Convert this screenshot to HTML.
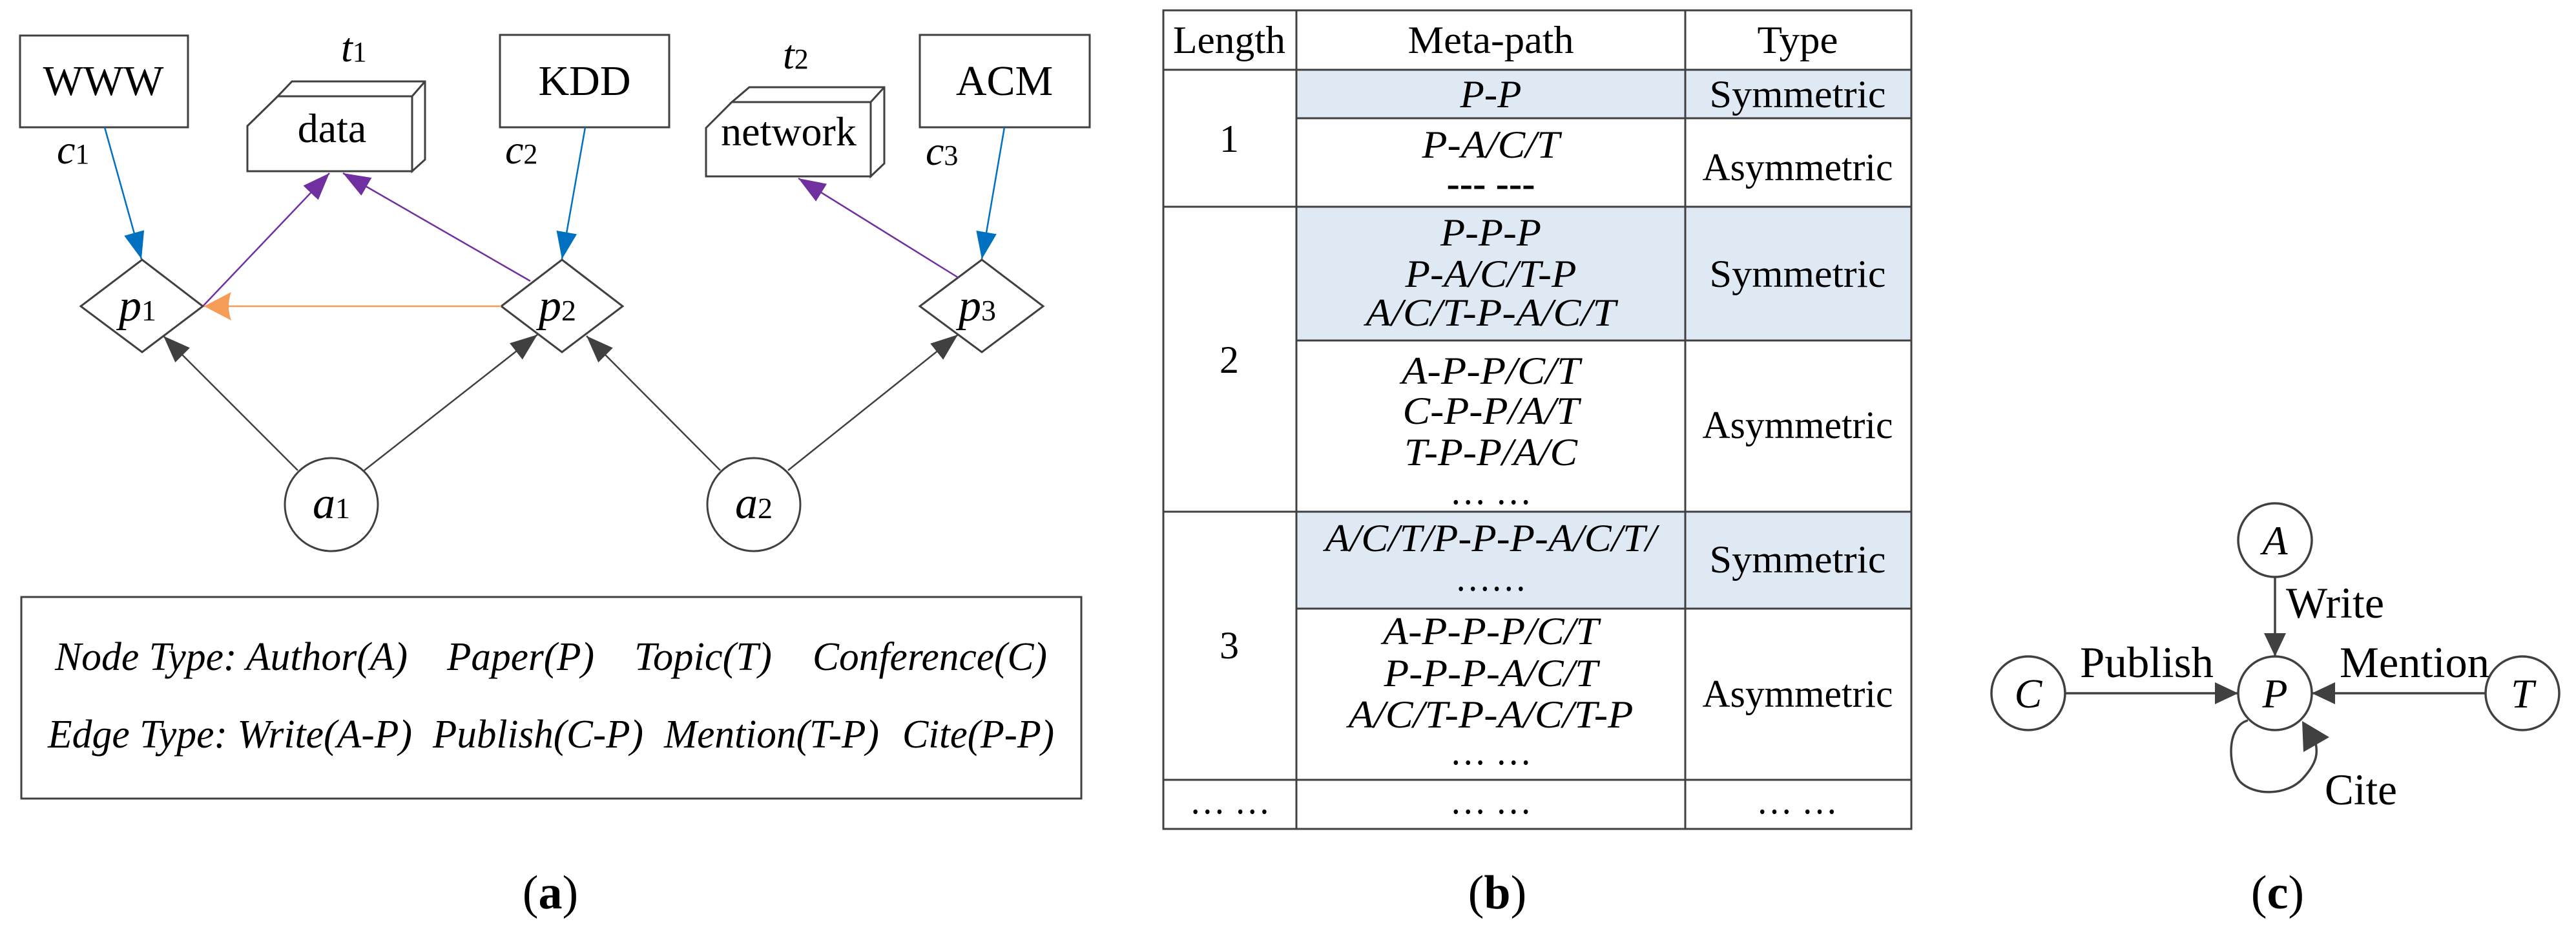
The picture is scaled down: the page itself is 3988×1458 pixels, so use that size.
<!DOCTYPE html>
<html><head><meta charset="utf-8"><style>
html,body{margin:0;padding:0;background:#fff;}
svg{display:block;}
text{font-family:"Liberation Serif",serif;fill:#000;}
</style></head><body>
<svg width="3988" height="1458" viewBox="0 0 3988 1458" xmlns="http://www.w3.org/2000/svg">
<defs>
<marker id="mb" markerUnits="userSpaceOnUse" markerWidth="44" markerHeight="34" refX="42" refY="16" orient="auto"><path d="M0,0 L42,16 L0,32 Z" fill="#0070c0"/></marker>
<marker id="mp" markerUnits="userSpaceOnUse" markerWidth="44" markerHeight="34" refX="42" refY="16" orient="auto"><path d="M0,0 L42,16 L0,32 Z" fill="#7030a0"/></marker>
<marker id="mo" markerUnits="userSpaceOnUse" markerWidth="44" markerHeight="46" refX="42" refY="22" orient="auto"><path d="M0,0 L42,22 L0,44 Q8,22 0,0 Z" fill="#f59d56"/></marker>
<marker id="md" markerUnits="userSpaceOnUse" markerWidth="44" markerHeight="34" refX="42" refY="16" orient="auto"><path d="M0,0 L42,16 L0,32 Z" fill="#404040"/></marker>
<marker id="mc" markerUnits="userSpaceOnUse" markerWidth="40" markerHeight="36" refX="36" refY="17" orient="auto"><path d="M0,0 L36,17 L0,34 Z" fill="#404040"/></marker>
</defs>

<!-- ===== Panel (a) ===== -->
<g stroke="#404040" stroke-width="3" fill="#fff">
<rect x="31" y="55" width="260" height="142"/>
<rect x="774" y="54" width="262" height="143"/>
<rect x="1424" y="54" width="263" height="143"/>
<polygon points="430,149 452,126 658,126 658,247 638,265 638,149"/>
<polygon points="383,195 430,149 638,149 638,265 383,265"/>
<line x1="638" y1="149" x2="658" y2="126"/>
<polygon points="1133,158 1160,135 1369,135 1369,253 1348,273 1348,158"/>
<polygon points="1093,198 1133,158 1348,158 1348,273 1093,273"/>
<line x1="1348" y1="158" x2="1369" y2="135"/>
<polygon points="125,474 220,402 314,474 220,545"/>
<polygon points="776,474 870,402 964,474 870,545"/>
<polygon points="1424,474 1520,402 1615,474 1520,545"/>
<circle cx="513" cy="781" r="72"/>
<circle cx="1167" cy="781" r="72"/>
</g>
<text x="160" y="147" font-size="66" text-anchor="middle">WWW</text>
<text x="905" y="147" font-size="66" text-anchor="middle">KDD</text>
<text x="1555" y="147" font-size="66" text-anchor="middle">ACM</text>
<text x="514" y="220" font-size="64" text-anchor="middle">data</text>
<text x="1221" y="225" font-size="64" text-anchor="middle">network</text>
<text x="528" y="95" font-size="64"><tspan font-style="italic">t</tspan><tspan font-size="44">1</tspan></text>
<text x="1212" y="106" font-size="64"><tspan font-style="italic">t</tspan><tspan font-size="44">2</tspan></text>
<text x="88" y="253" font-size="64"><tspan font-style="italic">c</tspan><tspan font-size="44">1</tspan></text>
<text x="782" y="253" font-size="64"><tspan font-style="italic">c</tspan><tspan font-size="44">2</tspan></text>
<text x="1433" y="255" font-size="64"><tspan font-style="italic">c</tspan><tspan font-size="44">3</tspan></text>
<text x="184" y="496" font-size="70"><tspan font-style="italic">p</tspan><tspan font-size="46">1</tspan></text>
<text x="834" y="496" font-size="70"><tspan font-style="italic">p</tspan><tspan font-size="46">2</tspan></text>
<text x="1484" y="496" font-size="70"><tspan font-style="italic">p</tspan><tspan font-size="46">3</tspan></text>
<text x="484" y="802" font-size="70"><tspan font-style="italic">a</tspan><tspan font-size="46">1</tspan></text>
<text x="1138" y="802" font-size="70"><tspan font-style="italic">a</tspan><tspan font-size="46">2</tspan></text>

<g fill="none" stroke-width="2.5">
<line x1="162" y1="197" x2="219" y2="401" stroke="#0070c0" marker-end="url(#mb)"/>
<line x1="906" y1="197" x2="870" y2="401" stroke="#0070c0" marker-end="url(#mb)"/>
<line x1="1555" y1="197" x2="1520" y2="401" stroke="#0070c0" marker-end="url(#mb)"/>
<line x1="314" y1="474" x2="510" y2="268" stroke="#7030a0" marker-end="url(#mp)"/>
<line x1="821" y1="435" x2="531" y2="268" stroke="#7030a0" marker-end="url(#mp)"/>
<line x1="1484" y1="430" x2="1236" y2="276" stroke="#7030a0" marker-end="url(#mp)"/>
<line x1="776" y1="474" x2="316" y2="474" stroke="#f59d56" marker-end="url(#mo)"/>
<line x1="461" y1="728" x2="253" y2="520" stroke="#404040" marker-end="url(#md)"/>
<line x1="564" y1="728" x2="832" y2="518" stroke="#404040" marker-end="url(#md)"/>
<line x1="1115" y1="728" x2="908" y2="520" stroke="#404040" marker-end="url(#md)"/>
<line x1="1220" y1="728" x2="1483" y2="518" stroke="#404040" marker-end="url(#md)"/>
</g>

<rect x="33" y="924" width="1641" height="312" fill="none" stroke="#404040" stroke-width="3"/>
<g font-size="62" font-style="italic">
<text x="85" y="1037" textLength="546" lengthAdjust="spacingAndGlyphs">Node Type: Author(A)</text>
<text x="692" y="1037" textLength="228" lengthAdjust="spacingAndGlyphs">Paper(P)</text>
<text x="982" y="1037" textLength="213" lengthAdjust="spacingAndGlyphs">Topic(T)</text>
<text x="1258" y="1037" textLength="363" lengthAdjust="spacingAndGlyphs">Conference(C)</text>
<text x="74" y="1157" textLength="564" lengthAdjust="spacingAndGlyphs">Edge Type: Write(A-P)</text>
<text x="670" y="1157" textLength="326" lengthAdjust="spacingAndGlyphs">Publish(C-P)</text>
<text x="1028" y="1157" textLength="333" lengthAdjust="spacingAndGlyphs">Mention(T-P)</text>
<text x="1397" y="1157" textLength="235" lengthAdjust="spacingAndGlyphs">Cite(P-P)</text>
</g>
<text x="852" y="1406" font-size="74" text-anchor="middle">(<tspan font-weight="bold">a</tspan>)</text>

<!-- ===== Panel (b) ===== -->
<rect x="2007" y="108" width="952" height="75" fill="#dfe9f3"/>
<rect x="2007" y="320" width="952" height="207" fill="#dfe9f3"/>
<rect x="2007" y="792" width="952" height="150" fill="#dfe9f3"/>
<g stroke="#404040" stroke-width="3" fill="none">
<rect x="1801" y="16" width="1158" height="1267"/>
<line x1="2007" y1="16" x2="2007" y2="1283"/>
<line x1="2609" y1="16" x2="2609" y2="1283"/>
<line x1="1801" y1="108" x2="2959" y2="108"/>
<line x1="2007" y1="183" x2="2959" y2="183"/>
<line x1="1801" y1="320" x2="2959" y2="320"/>
<line x1="2007" y1="527" x2="2959" y2="527"/>
<line x1="1801" y1="792" x2="2959" y2="792"/>
<line x1="2007" y1="942" x2="2959" y2="942"/>
<line x1="1801" y1="1207" x2="2959" y2="1207"/>
</g>
<g font-size="60" text-anchor="middle">
<text x="1903" y="82" textLength="174" lengthAdjust="spacingAndGlyphs">Length</text>
<text x="2308" y="82" textLength="257" lengthAdjust="spacingAndGlyphs">Meta-path</text>
<text x="2783" y="82" textLength="125" lengthAdjust="spacingAndGlyphs">Type</text>
<text x="1903" y="235">1</text>
<text x="1903" y="577">2</text>
<text x="1903" y="1019">3</text>
<text x="2783" y="166" textLength="273" lengthAdjust="spacingAndGlyphs">Symmetric</text>
<text x="2783" y="279" textLength="295" lengthAdjust="spacingAndGlyphs">Asymmetric</text>
<text x="2783" y="444" textLength="273" lengthAdjust="spacingAndGlyphs">Symmetric</text>
<text x="2783" y="678" textLength="295" lengthAdjust="spacingAndGlyphs">Asymmetric</text>
<text x="2783" y="886" textLength="273" lengthAdjust="spacingAndGlyphs">Symmetric</text>
<text x="2783" y="1094" textLength="295" lengthAdjust="spacingAndGlyphs">Asymmetric</text>
<text x="2308" y="304" textLength="137" lengthAdjust="spacingAndGlyphs" font-weight="bold">--- ---</text>
<text x="2308" y="780" textLength="127" lengthAdjust="spacingAndGlyphs">… …</text>
<text x="2308" y="914" textLength="111" lengthAdjust="spacingAndGlyphs">……</text>
<text x="2308" y="1183" textLength="127" lengthAdjust="spacingAndGlyphs">… …</text>
<text x="1904" y="1259" textLength="125" lengthAdjust="spacingAndGlyphs">… …</text>
<text x="2308" y="1259" textLength="127" lengthAdjust="spacingAndGlyphs">… …</text>
<text x="2782" y="1259" textLength="126" lengthAdjust="spacingAndGlyphs">… …</text>
</g>
<g font-size="60" text-anchor="middle" font-style="italic">
<text x="2308" y="166" textLength="95" lengthAdjust="spacingAndGlyphs">P-P</text>
<text x="2308" y="244" textLength="213" lengthAdjust="spacingAndGlyphs">P-A/C/T</text>
<text x="2308" y="380" textLength="156" lengthAdjust="spacingAndGlyphs">P-P-P</text>
<text x="2308" y="444" textLength="265" lengthAdjust="spacingAndGlyphs">P-A/C/T-P</text>
<text x="2308" y="504" textLength="387" lengthAdjust="spacingAndGlyphs">A/C/T-P-A/C/T</text>
<text x="2308" y="594" textLength="276" lengthAdjust="spacingAndGlyphs">A-P-P/C/T</text>
<text x="2308" y="656" textLength="273" lengthAdjust="spacingAndGlyphs">C-P-P/A/T</text>
<text x="2308" y="720" textLength="268" lengthAdjust="spacingAndGlyphs">T-P-P/A/C</text>
<text x="2308" y="853" textLength="513" lengthAdjust="spacingAndGlyphs">A/C/T/P-P-P-A/C/T/</text>
<text x="2308" y="997" textLength="334" lengthAdjust="spacingAndGlyphs">A-P-P-P/C/T</text>
<text x="2308" y="1062" textLength="331" lengthAdjust="spacingAndGlyphs">P-P-P-A/C/T</text>
<text x="2308" y="1126" textLength="441" lengthAdjust="spacingAndGlyphs">A/C/T-P-A/C/T-P</text>
</g>
<text x="2318" y="1406" font-size="74" text-anchor="middle">(<tspan font-weight="bold">b</tspan>)</text>

<!-- ===== Panel (c) ===== -->
<g stroke="#404040" stroke-width="3.5" fill="#fff">
<circle cx="3522" cy="836" r="57"/>
<circle cx="3522" cy="1073" r="57"/>
<circle cx="3140" cy="1073" r="57"/>
<circle cx="3905" cy="1073" r="57"/>
</g>
<g stroke="#404040" stroke-width="3.5" fill="none">
<line x1="3522" y1="893" x2="3522" y2="1016" marker-end="url(#mc)"/>
<line x1="3197" y1="1073" x2="3465" y2="1073" marker-end="url(#mc)"/>
<line x1="3848" y1="1073" x2="3579" y2="1073" marker-end="url(#mc)"/>
<path d="M3480,1115 C3445,1125 3450,1190 3468,1210 C3490,1232 3540,1232 3565,1205 C3588,1180 3588,1165 3585,1150"/>
</g>
<polygon points="3564,1116 3606,1141 3566,1164" fill="#404040"/>
<g font-size="64" text-anchor="middle" font-style="italic">
<text x="3522" y="858">A</text>
<text x="3522" y="1095">P</text>
<text x="3140" y="1095">C</text>
<text x="3905" y="1095">T</text>
</g>
<text x="3539" y="956" font-size="68" textLength="152" lengthAdjust="spacingAndGlyphs">Write</text>
<text x="3220" y="1048" font-size="68" textLength="207" lengthAdjust="spacingAndGlyphs">Publish</text>
<text x="3622" y="1048" font-size="68" textLength="232" lengthAdjust="spacingAndGlyphs">Mention</text>
<text x="3599" y="1245" font-size="68" textLength="112" lengthAdjust="spacingAndGlyphs">Cite</text>
<text x="3526" y="1406" font-size="74" text-anchor="middle">(<tspan font-weight="bold">c</tspan>)</text>
</svg>
</body></html>
